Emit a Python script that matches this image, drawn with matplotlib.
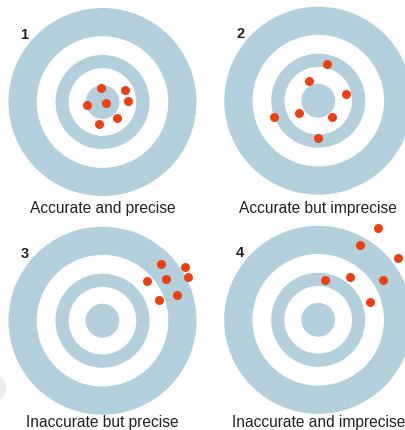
import numpy as np
import matplotlib.pyplot as plt
from matplotlib.patches import Circle

plt.rcParams['font.family'] = ['Liberation Sans', 'DejaVu Sans']

W, H = 405, 431
BLUE = "#b3d0dc"
RED = "#ee3f12"

# target layout (pixels) and ring radii as fraction of outer radius
CENTERS = [(102.5, 103.0), (318.3, 101.7), (102.5, 321.7), (318.2, 320.8)]
R_OUT = 94.0
RINGS = [1.0, 0.70, 0.50, 0.36, 0.18]

NUMBERS = ["1", "2", "3", "4"]
LABELS = [
    "Accurate and precise",
    "Accurate but imprecise",
    "Inaccurate but precise",
    "Inaccurate and imprecise",
]
# baseline of each caption (pixels from top)
LABEL_Y = [213.5, 213.5, 427.0, 427.0]

# hit positions, relative to target centre, in units of outer radius (y up)
HITS_X = [
    [-0.02, 0.24, 0.04, 0.27, -0.16, 0.15, -0.04],
    [0.09, -0.10, 0.30, -0.47, -0.21, 0.15, 0.00],
    [0.62, 0.88, 0.91, 0.68, 0.47, 0.79, 0.60],
    [0.64, 0.45, 0.85, 0.34, 0.69, 0.07, 0.55],
]
HITS_Y = [
    [0.15, 0.13, -0.01, 0.01, -0.03, -0.17, -0.23],
    [0.39, 0.21, 0.07, -0.17, -0.13, -0.17, -0.40],
    [0.60, 0.57, 0.46, 0.44, 0.42, 0.27, 0.22],
    [0.98, 0.80, 0.66, 0.46, 0.42, 0.42, 0.19],
]


fig = plt.figure(figsize=(W / 100, H / 100), dpi=100)
ax = fig.add_axes([0, 0, 1, 1])
ax.set_xlim(0, W)
ax.set_ylim(H, 0)
ax.set_aspect("equal")
ax.axis("off")

# faint grey blob at the left edge
ax.add_patch(Circle((-9, 389), 15, color="#ececec", lw=0))

for i, (cx, cy) in enumerate(CENTERS):
    for j, r in enumerate(RINGS):
        col = BLUE if j % 2 == 0 else "white"
        ax.add_patch(Circle((cx, cy), r * R_OUT, color=col, lw=0))
    xs = cx + np.array(HITS_X[i]) * R_OUT
    ys = cy - np.array(HITS_Y[i]) * R_OUT
    ax.scatter(xs, ys, s=42, color=RED, lw=0, zorder=3)
    ax.text(cx - 82, cy - 68, NUMBERS[i], fontsize=10.5, fontweight="bold",
            color="#222222", ha="left", va="center")
    ax.text(cx, LABEL_Y[i], LABELS[i], fontsize=11.2, color="#222222",
            ha="center", va="baseline")

fig.savefig("out.png", dpi=100)
